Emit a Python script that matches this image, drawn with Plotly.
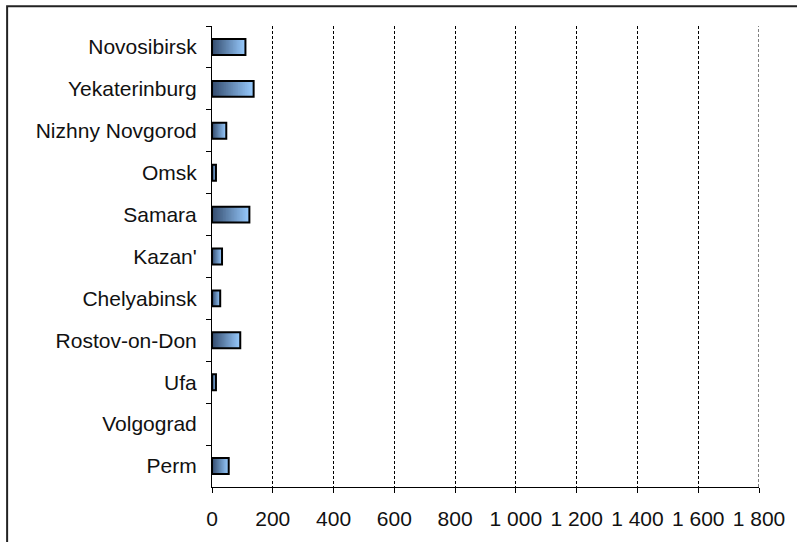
import plotly.graph_objects as go

# City list, top to bottom, and values per city
cities = ["Novosibirsk", "Yekaterinburg", "Nizhny Novgorod", "Omsk", "Samara",
          "Kazan'", "Chelyabinsk", "Rostov-on-Don", "Ufa", "Volgograd", "Perm"]
values = [110, 137, 47, 13, 123, 33, 27, 93, 13, 0, 55]

# X axis ticks
tick_vals = [0, 200, 400, 600, 800, 1000, 1200, 1400, 1600, 1800]
tick_text = ["0", "200", "400", "600", "800", "1 000", "1 200", "1 400", "1 600", "1 800"]

DARK = (52, 76, 110)
LIGHT = (153, 204, 255)
N_BANDS = 24
BAR_WIDTH = 0.38

fig = go.Figure()

# Horizontal gradient: full-length light bar first, then successively
# shorter and darker bars drawn on top of it.
for k in range(N_BANDS, 0, -1):
    t = (k - 0.5) / N_BANDS
    r = round(DARK[0] + (LIGHT[0] - DARK[0]) * t)
    g = round(DARK[1] + (LIGHT[1] - DARK[1]) * t)
    b = round(DARK[2] + (LIGHT[2] - DARK[2]) * t)
    fig.add_trace(go.Bar(
        y=cities,
        x=[v * k / N_BANDS for v in values],
        orientation="h",
        width=BAR_WIDTH,
        marker=dict(color=f"rgb({r},{g},{b})", line=dict(width=0)),
        hoverinfo="skip",
        showlegend=False,
    ))

# Black outline on top (no outline for empty bars)
fig.add_trace(go.Bar(
    y=cities,
    x=values,
    orientation="h",
    width=BAR_WIDTH,
    marker=dict(color="rgba(0,0,0,0)",
                line=dict(color="black", width=[2 if v > 0 else 0 for v in values])),
    showlegend=False,
))

L, R, T, B = 212, 35, 26, 49
W, H = 797, 542
pw, ph = W - L - R, H - T - B

fig.update_layout(
    width=W, height=H,
    margin=dict(l=L, r=R, t=T, b=B, pad=0),
    barmode="overlay",
    plot_bgcolor="white",
    paper_bgcolor="white",
    font=dict(family="Liberation Sans, Arial, sans-serif", size=21, color="#111111"),
    xaxis=dict(
        range=[tick_vals[0], tick_vals[-1]],
        tickvals=tick_vals,
        ticktext=tick_text,
        ticks="outside", ticklen=5, tickcolor="black", tickwidth=1,
        showline=True, linecolor="black", linewidth=1,
        showgrid=True, gridcolor="black", gridwidth=1, griddash="3px,2px",
        zeroline=False,
        ticklabelstandoff=8,
    ),
    yaxis=dict(
        autorange="reversed",
        type="category",
        ticks="outside", ticklen=5, tickcolor="black", tickwidth=1,
        tickson="boundaries",
        showline=True, linecolor="black", linewidth=1,
        showgrid=False, zeroline=False,
        ticklabelstandoff=10,
    ),
    shapes=[
        # gridline at the far end of the value axis
        dict(type="line", xref="x", yref="paper",
             x0=tick_vals[-1], x1=tick_vals[-1], y0=0, y1=1,
             line=dict(color="black", width=1, dash="3px,2px"),
             layer="below"),
        # outer frame
        dict(type="rect", xref="paper", yref="paper",
             x0=(6 - L) / pw, x1=(W + 20 - L) / pw,
             y0=-(H + 20 - T - ph) / ph, y1=1 + (T - 6) / ph,
             line=dict(color="#222222", width=2),
             fillcolor="rgba(0,0,0,0)",
             layer="above"),
    ],
)

fig.write_html("out.html")
